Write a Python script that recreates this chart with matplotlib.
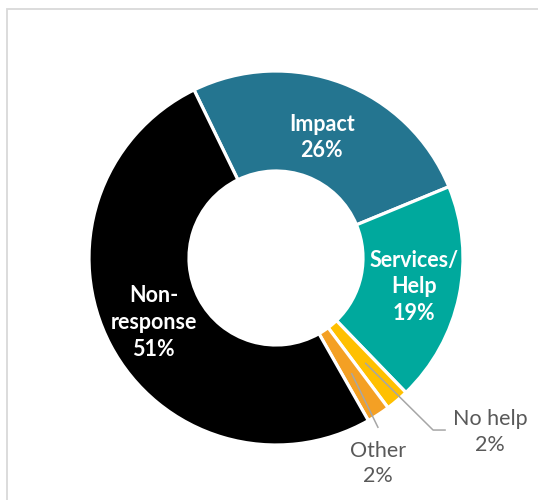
import matplotlib
matplotlib.use("Agg")
import matplotlib.pyplot as plt
from matplotlib.patches import Rectangle
import numpy as np

categories = ["Impact", "Services/\nHelp", "No help", "Other", "Non-\nresponse"]
values = [26, 19, 2, 2, 51]
colors = ["#247590", "#00A99D", "#FFC000", "#F4A024", "#000000"]

W, H = 538, 500
CX, CY, R = 276, 258, 187  # pixel geometry of the donut

fig = plt.figure(figsize=(W / 100, H / 100), dpi=100)
ax = fig.add_axes([0, 0, 1, 1])

wedges, _ = ax.pie(values, colors=colors, startangle=116, counterclock=False,
                   radius=1.0,
                   wedgeprops=dict(width=1 - 87 / 187, edgecolor="white", linewidth=2.3))

ax.set_xlim(-CX / R, (W - CX) / R)
ax.set_ylim(-(H - CY) / R, CY / R)
ax.set_aspect("auto")
ax.axis("off")

font = "Lato"
fs = 15.5
ls = 1.33

def mid(w, r):
    a = np.deg2rad((w.theta1 + w.theta2) / 2)
    return r * np.cos(a), r * np.sin(a)

inside = {0: 0.69, 1: 0.755, 4: 0.74}
for i, r in inside.items():
    x, y = mid(wedges[i], r)
    ax.text(x, y, f"{categories[i]}\n{values[i]}%", ha="center", va="center",
            color="white", fontsize=fs, fontweight="bold", family=font,
            linespacing=ls)

gray_line = "#A6A6A6"
gray_text = "#595959"

# No help
x0, y0 = mid(wedges[2], 0.74)
ax.plot([x0, 0.840, 0.904], [y0, -0.920, -0.920], color=gray_line, lw=1.1)
ax.text(1.144, -0.930, f"{categories[2]}\n{values[2]}%", ha="center", va="center",
        color=gray_text, fontsize=fs, family=font, linespacing=ls)

# Other
x0, y0 = mid(wedges[3], 0.74)
ax.plot([x0, 0.545], [y0, -0.905], color=gray_line, lw=1.1)
ax.text(0.545, -1.10, f"{categories[3]}\n{values[3]}%", ha="center", va="center",
        color=gray_text, fontsize=fs, family=font, linespacing=ls)

# Outer frame
fig.patches.append(Rectangle((7 / W, -0.1), 1.2, 1.1 - 9 / H,
                             transform=fig.transFigure, fill=False,
                             edgecolor="#D9D9D9", linewidth=1.3))

fig.savefig("out.png", dpi=100)
